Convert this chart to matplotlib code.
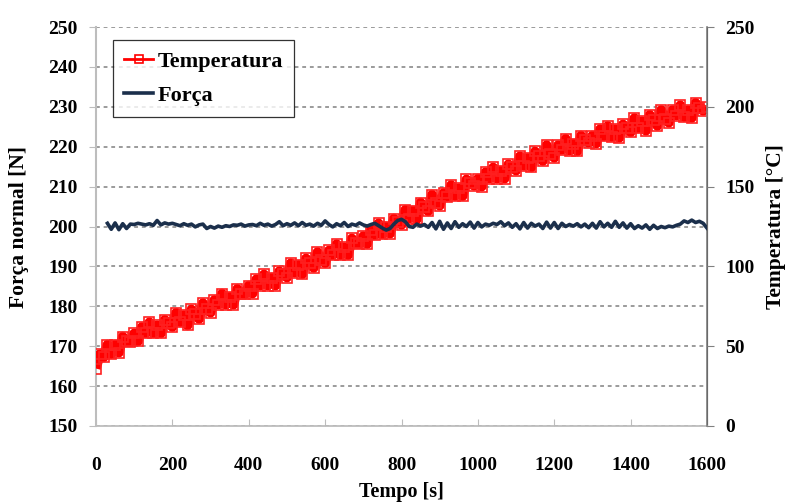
import numpy as np
import matplotlib
matplotlib.use("Agg")
import matplotlib.pyplot as plt

# ---------------- data ----------------
temp_time = np.arange(0, 1601, 10)
temperatura = [
    36, 45, 43, 51, 45, 51, 46, 56, 53, 52.5,
    58, 53, 62, 58, 65, 58, 63, 58, 66.5, 64.5,
    62, 71, 65, 69.5, 63, 73, 70, 67, 77, 73,
    71, 79, 76, 83, 76, 81, 76, 86, 83, 82.5,
    88, 83, 92, 88, 95, 88, 93, 88, 97, 95,
    93, 102, 96, 101, 95, 105, 102, 99, 109, 104,
    102, 110, 107, 114, 107, 112, 107, 117.5, 114.5, 114,
    119, 114, 123, 119.5, 127, 120, 125, 120.5, 130, 128,
    126, 135.5, 130, 135, 129.5, 140, 137, 134.5, 145, 140,
    138, 146, 143.5, 151, 144, 149, 144, 154.5, 152, 150.5,
    155, 150, 159, 155, 162, 155, 160, 155, 164, 162,
    160, 169, 163, 168, 162, 172, 169, 166, 176, 170.5,
    168, 176, 173, 180, 172.5, 177, 172, 182, 179, 177.5,
    182, 177, 186, 181.5, 188, 181, 186, 180.5, 189, 186.5,
    184, 193, 186.5, 191, 185, 195, 191.5, 188, 198, 192.5,
    190, 198, 194.5, 201, 193.5, 198, 193, 202.5, 199, 197.5, 200,
]

force_time = np.arange(30, 1601, 10)
forca = [
    200.8, 199.3, 200.9, 199.2, 200.7, 199.5, 200.6, 200.5, 200.8, 200.6,
    200.4, 200.7, 200.3, 201.5, 200.4, 200.9, 200.6, 200.8, 200.5, 200.2,
    200.7, 200.3, 200.6, 199.9, 200.4, 200.6, 199.5, 200.0, 199.6, 200.1,
    199.8, 200.2, 200.0, 200.4, 200.3, 200.6, 200.1, 200.4, 200.5, 200.2,
    200.8, 200.3, 200.6, 200.1, 200.5, 201.2, 200.2, 200.7, 200.3, 200.9,
    200.2, 201.0, 200.3, 200.6, 200.1, 200.8, 200.3, 201.4, 200.5, 199.9,
    200.7, 200.2, 201.0, 200.0, 200.6, 200.3, 200.9, 200.4, 200.1, 200.5,
    200.8, 200.2, 199.6, 199.1, 199.5, 200.6, 201.5, 201.8, 201.2, 200.0,
    199.8, 200.6, 200.1, 200.5, 199.8, 201.0, 199.4, 201.3, 199.3, 200.9,
    199.5, 201.2, 199.8, 200.7, 200.0, 201.1, 199.6, 201.0, 199.9, 200.6,
    200.3, 200.8, 200.5, 201.2, 200.2, 200.9, 199.8, 200.7, 199.4, 201.0,
    199.6, 200.8, 200.1, 200.6, 199.5, 201.1, 199.6, 201.0, 199.5, 200.8,
    200.0, 200.5, 200.1, 200.7, 199.9, 200.6, 199.7, 200.8, 199.6, 201.2,
    199.9, 200.8, 199.8, 201.3, 199.8, 200.9, 199.6, 200.7, 199.5, 200.2,
    199.6, 200.4, 199.3, 200.3, 199.5, 200.0, 199.7, 200.1, 199.9, 200.3,
    200.6, 201.4, 201.0, 201.6, 201.0, 201.3, 200.8, 199.6,
]

x_ticks = [0, 200, 400, 600, 800, 1000, 1200, 1400, 1600]
left_ticks = [150, 160, 170, 180, 190, 200, 210, 220, 230, 240, 250]
right_ticks = [0, 50, 100, 150, 200, 250]

# ---------------- style ----------------
plt.rcParams['font.family'] = ['Liberation Serif', 'DejaVu Serif']
plt.rcParams['font.weight'] = 'bold'
FS = 14
FS_LEG = 16
FS_YLAB = 15.5
FS_XLAB = 14.5
RED = '#FF0000'
NAVY = '#1B2F4B'
SPINE_L = '#BDBDBD'
SPINE_R = '#808080'

fig = plt.figure(figsize=(7.92, 5.03), dpi=100)
ax = fig.add_axes([0.1212, 0.1531, 0.7715, 0.7932])
ax2 = ax.twinx()

ax.set_xlim(0, 1600)
ax.set_ylim(150, 250)
ax2.set_ylim(0, 250)

ax.set_xticks(x_ticks)
ax.set_yticks(left_ticks)
ax2.set_yticks(right_ticks)

ax.grid(axis='y', linestyle=(0, (2.5, 2.5)), color='#808080', linewidth=1.1)
ax.set_axisbelow(True)

# temperature on right axis
lt, = ax2.plot(temp_time, temperatura, color=RED, linewidth=7, marker='s',
               markersize=6.5, markerfacecolor='none', markeredgecolor='#FF2020',
               markeredgewidth=1.2, label='Temperatura', zorder=2,
               solid_joinstyle='round', solid_capstyle='butt')
# force on left axis scale, drawn on top
lf, = ax2.plot(force_time, forca, color=NAVY, linewidth=2.6,
               transform=ax.transData, label='Força', zorder=3)

for a in (ax, ax2):
    a.spines['top'].set_visible(False)
ax.spines['left'].set_color(SPINE_L)
ax.spines['left'].set_linewidth(1.5)
ax.spines['bottom'].set_color(SPINE_L)
ax.spines['bottom'].set_linewidth(1.3)
ax2.spines['left'].set_visible(False)
ax2.spines['bottom'].set_visible(False)
ax2.spines['right'].set_color(SPINE_R)
ax2.spines['right'].set_linewidth(1.2)

ax.tick_params(axis='x', direction='in', length=5, color=SPINE_L, labelsize=FS, pad=22)
ax.tick_params(axis='y', direction='out', length=5, color=SPINE_L, labelsize=FS, pad=8)
ax2.tick_params(axis='y', direction='out', length=5, color=SPINE_R, labelsize=FS, pad=8)
for lab in ax.get_xticklabels() + ax.get_yticklabels() + ax2.get_yticklabels():
    lab.set_fontweight('bold')

ax.set_xlabel('Tempo [s]', fontsize=FS_XLAB, fontweight='bold', labelpad=6)
ax.set_ylabel('Força normal [N]', fontsize=FS_YLAB, fontweight='bold', labelpad=14)
ax2.set_ylabel('Temperatura [°C]', fontsize=FS_YLAB, fontweight='bold', labelpad=8)

leg_handles = [
    plt.Line2D([], [], color=RED, linewidth=2.0, marker='s', markersize=5.5,
               markerfacecolor='none', markeredgecolor=RED, markeredgewidth=1.2),
    lf,
]
leg = ax2.legend(leg_handles, ['Temperatura', 'Força'], loc='upper left',
                 bbox_to_anchor=(0.028, 0.967),
                 borderaxespad=0, frameon=True, fancybox=False, handlelength=1.3,
                 handletextpad=0.2, labelspacing=0.6, borderpad=0.5,
                 prop={'weight': 'bold', 'size': FS_LEG})
leg.get_frame().set_edgecolor('#000000')
leg.get_frame().set_linewidth(0.9)
leg.set_zorder(10)

fig.savefig('out.png', dpi=100)
